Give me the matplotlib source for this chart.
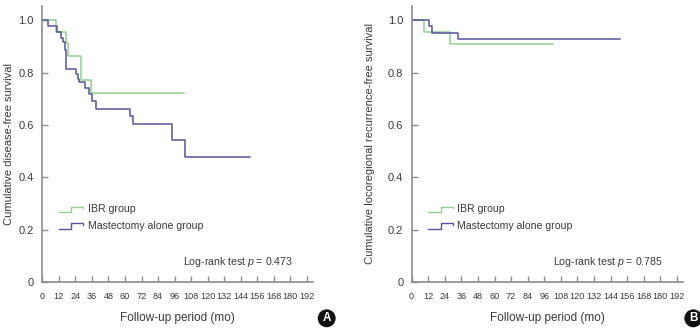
import matplotlib
matplotlib.use('Agg')
import matplotlib.pyplot as plt
from matplotlib.legend_handler import HandlerBase
from matplotlib.lines import Line2D

plt.rcParams['font.family'] = ['Liberation Sans', 'DejaVu Sans']
plt.rcParams['mathtext.fontset'] = 'custom'
plt.rcParams['mathtext.it'] = 'Liberation Sans:italic'
plt.rcParams['mathtext.rm'] = 'Liberation Sans'

####################################################
##                 Data (read off)
####################################################

# A: disease-free survival
a_ibr_t = [0, 9.7, 17.4, 18.4, 28.4, 35.1, 103]
a_ibr_s = [1.0, 0.957, 0.913, 0.865, 0.772, 0.722, 0.722]
a_mast_t = [0, 4.5, 11, 13.6, 15.2, 16.3, 17.4, 24.7, 25.7, 26.7, 31.2, 33.7, 36.1, 39,
            63.8, 65.6, 94.1, 103.8, 151]
a_mast_s = [1.0, 0.98, 0.955, 0.934, 0.919, 0.887, 0.815, 0.795, 0.777, 0.766, 0.741, 0.719,
            0.692, 0.663, 0.634, 0.602, 0.543, 0.479, 0.479]

# B: locoregional recurrence-free survival
b_ibr_t = [0, 8.9, 28, 102]
b_ibr_s = [1.0, 0.954, 0.911, 0.911]
b_mast_t = [0, 12.6, 14.7, 33.8, 151]
b_mast_s = [1.0, 0.98, 0.951, 0.929, 0.929]

x_ticks = list(range(0, 193, 12))
y_ticks = [0, 0.2, 0.4, 0.6, 0.8, 1.0]
y_ticklabels = ['0', '0.2', '0.4', '0.6', '0.8', '1.0']
group_names = ['IBR group', 'Mastectomy alone group']
ylabels = ['Cumulative disease-free survival', 'Cumulative locoregional recurrence-free survival']
pvalues = ['0.473', '0.785']
panel_tags = ['A', 'B']

GREEN = '#8fd18f'
BLUE = '#55559a'
TXT = '#3a3a3a'
AXC = '#8c8c8c'


class StepHandler(HandlerBase):
    # little KM step glyph for the legend
    def create_artists(self, legend, orig_handle, xdescent, ydescent,
                       width, height, fontsize, trans):
        w, h = width, height
        xs = [-xdescent, -xdescent + 0.5 * w, -xdescent + 0.5 * w, -xdescent + w, -xdescent + w]
        ys = [0.05 * h, 0.05 * h, 0.75 * h, 0.75 * h, 0.5 * h]
        ln = Line2D(xs, ys, color=orig_handle.get_color(), lw=1.0)
        ln.set_transform(trans)
        return [ln]


fig = plt.figure(figsize=(7.0, 3.31), dpi=100)
ax_a = fig.add_axes([0.0604, 0.148, 0.387, 0.834])
ax_b = fig.add_axes([0.588, 0.148, 0.388, 0.834])

panels = [(ax_a, a_ibr_t, a_ibr_s, a_mast_t, a_mast_s),
          (ax_b, b_ibr_t, b_ibr_s, b_mast_t, b_mast_s)]

for i, (ax, it, isv, mt, msv) in enumerate(panels):
    l1, = ax.step(it, isv, where='post', color=GREEN, lw=1.1)
    l2, = ax.step(mt, msv, where='post', color=BLUE, lw=1.1)

    ax.set_xlim(0, 196.5)
    ax.set_ylim(0, 1.055)
    ax.set_xticks(x_ticks)
    ax.set_yticks(y_ticks)
    ax.set_yticklabels(y_ticklabels)
    for s in ['top', 'right']:
        ax.spines[s].set_visible(False)
    for s in ['left', 'bottom']:
        ax.spines[s].set_color(AXC)
        ax.spines[s].set_linewidth(1.2)
    ax.tick_params(axis='both', direction='in', length=4, width=1, color=AXC,
                   labelcolor=TXT)
    ax.tick_params(axis='x', pad=7, labelsize=6.6)
    ax.tick_params(axis='y', pad=6, labelsize=8)

    ax.set_xlabel('Follow-up period (mo)', fontsize=8.5, color=TXT, labelpad=8)
    ax.set_ylabel(ylabels[i], fontsize=8, color=TXT, labelpad=[3, 9][i])

    ax.legend([l1, l2], group_names, handler_map={Line2D: StepHandler()},
              loc='upper left', bbox_to_anchor=(0.062, 0.282), frameon=False,
              borderpad=0, borderaxespad=0, handlelength=2.3, handletextpad=0.45,
              labelspacing=0.65, prop={'size': 7.6}, labelcolor=TXT)

    ax.text(0.924, 0.072, 'Log-rank test $\\it{p}$ = ' + pvalues[i], transform=ax.transAxes,
            ha='right', va='center', fontsize=7.6, color=TXT)

# panel tags
fig.text(326.7 / 700, 1 - 318.3 / 331, panel_tags[0], ha='center', va='center',
         fontsize=8.5, fontweight='bold', color='white',
         bbox=dict(boxstyle='circle,pad=0.25', fc='#111111', ec='none'))
fig.text(693.3 / 700, 1 - 318.3 / 331, panel_tags[1], ha='center', va='center',
         fontsize=8.5, fontweight='bold', color='white',
         bbox=dict(boxstyle='circle,pad=0.25', fc='#111111', ec='none'))

plt.savefig('out.png', dpi=100)
plt.close()
